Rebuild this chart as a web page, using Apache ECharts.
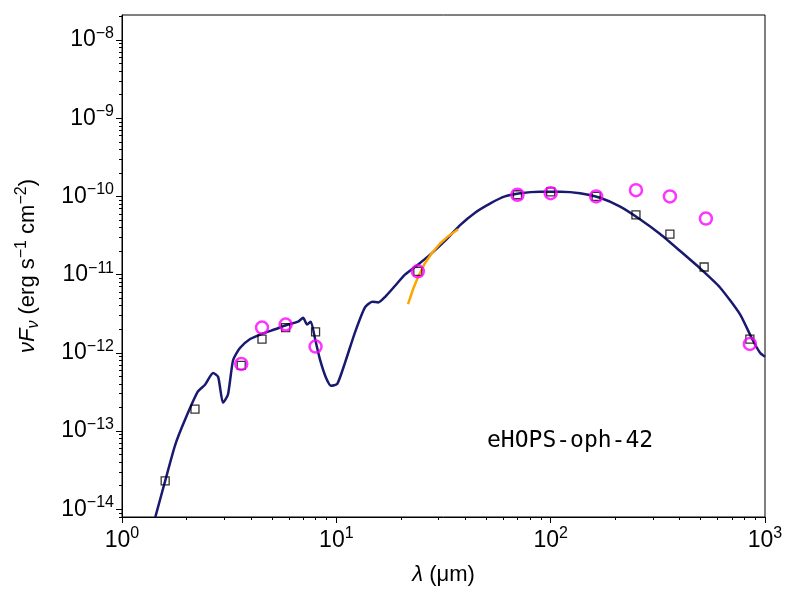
<!DOCTYPE html>
<html><head><meta charset="utf-8">
<script src="https://cdn.jsdelivr.net/npm/echarts@6/dist/echarts.min.js"></script>
<style>html,body{margin:0;background:#fff}#c{width:800px;height:600px}</style>
</head><body><div id="c"></div>
<script>
// model SED (lambda in micron, nuFnu in erg/s/cm2)
var modelLam = [1.43,1.59,1.77,1.97,2.26,2.44,2.66,2.81,2.96,3.12,3.30,3.55,3.96,4.50,5.18,5.95,6.63,7.0,7.3,7.6,7.96,8.4,8.95,9.45,10.1,11.0,12.2,13.6,14.7,15.7,16.9,18.8,20.9,24.1,27.4,32.1,37.8,44.4,52.1,61.2,72,89,111,137,170,211,261,324,402,498,618,765,871,948,1000];
var modelF = [7.9e-15,2.3e-14,6.6e-14,1.4e-13,3.2e-13,3.9e-13,5.5e-13,4.9e-13,2.3e-13,2.9e-13,8.1e-13,1.15e-12,1.5e-12,1.75e-12,2.0e-12,2.3e-12,2.5e-12,2.8e-12,2.3e-12,2.5e-12,1.5e-12,8.1e-13,4.8e-13,3.8e-13,4.0e-13,7.6e-13,1.8e-12,3.8e-12,4.5e-12,4.4e-12,5.2e-12,7.2e-12,1.0e-11,1.35e-11,1.8e-11,2.7e-11,4.3e-11,6.2e-11,8.1e-11,1.0e-10,1.1e-10,1.15e-10,1.15e-10,1.1e-10,9.6e-11,7.4e-11,5.1e-11,3.3e-11,2.0e-11,1.2e-11,6.8e-12,3.1e-12,1.5e-12,1.0e-12,8.9e-13];
// model photometry (squares)
var sqLam = [1.59,2.19,3.6,4.5,5.8,8.0,24,70,100,163,250,360,520,850];
var sqF = [2.3e-14,1.9e-13,6.9e-13,1.5e-12,2.1e-12,1.85e-12,1.1e-11,1.05e-10,1.14e-10,1.0e-10,5.8e-11,3.3e-11,1.25e-11,1.5e-12];
// observed photometry (circles)
var obLam = [3.6,4.5,5.8,8.0,24,70,100,163,250,360,530,850];
var obF = [7.2e-13,2.1e-12,2.3e-12,1.2e-12,1.1e-11,1.05e-10,1.1e-10,1.0e-10,1.2e-10,1.0e-10,5.2e-11,1.3e-12];
// IRS spectrum
var irsLam = [21.6,22.8,24,25.9,28,30.5,33.3,37];
var irsF = [4.2e-12,6.5e-12,9.2e-12,1.4e-11,1.9e-11,2.5e-11,3.1e-11,3.8e-11];
var xMajor = [0,1,2,3];
var yMajor = [-14,-13,-12,-11,-10,-9,-8];
var label = 'eHOPS-oph-42';

function pts(l, f) { return l.map(function (v, i) { return [Math.log10(v), Math.log10(f[i])]; }); }
function minors(a, b) { var r = []; for (var n = a; n < b; n++) for (var k = 2; k < 10; k++) r.push(n + Math.log10(k)); return r; }

var font = 'Liberation Sans';
var rich = { sup: { fontSize: 16, fontFamily: font, color: '#000', verticalAlign: 'top', padding: [0, 0, 13, 0] },
             b: { fontSize: 23, fontFamily: font, color: '#000' } };
function fmt(v) { return '{b|10}{sup|' + (v < 0 ? '\u2212' + (-v) : v) + '}'; }

var xmin = 0, xmax = 3, ymin = -14.10, ymax = -7.68;
var line = { show: true, lineStyle: { color: '#000', width: 1 } };

var chart = echarts.init(document.getElementById('c'));
chart.setOption({
  animation: false,
  grid: { left: 122, right: 35, top: 15, bottom: 83 },
  xAxis: [
    { type: 'value', min: xmin, max: xmax, axisLine: line, splitLine: { show: false },
      axisTick: { customValues: xMajor, length: 6, inside: false, lineStyle: { color: '#000' } },
      axisLabel: { customValues: xMajor, formatter: fmt, rich: rich, margin: 9 },
      name: '{i|\u03bb} (\u03bcm)', nameLocation: 'middle', nameGap: 47,
      nameTextStyle: { fontSize: 22, fontFamily: font, color: '#000',
        rich: { i: { fontSize: 22, fontStyle: 'italic', fontFamily: font } } } },
    { type: 'value', min: xmin, max: xmax, position: 'bottom', axisLine: { show: false }, splitLine: { show: false },
      axisTick: { customValues: minors(0, 3), length: 3, lineStyle: { color: '#000' } }, axisLabel: { show: false } }
  ],
  yAxis: [
    { type: 'value', min: ymin, max: ymax, axisLine: line, splitLine: { show: false },
      axisTick: { customValues: yMajor, length: 6, lineStyle: { color: '#000' } },
      axisLabel: { customValues: yMajor, formatter: fmt, rich: rich, margin: 8 },
      name: '{i|\u03bdF}{s|\u03bd} (erg s{p|\u22121} cm{p|\u22122})', nameLocation: 'middle', nameGap: 80,
      nameTextStyle: { fontSize: 22, fontFamily: font, color: '#000',
        rich: { i: { fontSize: 22, fontStyle: 'italic', fontFamily: font },
                s: { fontSize: 16, fontStyle: 'italic', fontFamily: font, verticalAlign: 'bottom', padding: [10, 0, 0, 0] },
                p: { fontSize: 16, fontFamily: font, verticalAlign: 'top', padding: [0, 0, 12, 0] } } } },
    { type: 'value', min: ymin, max: ymax, position: 'left', axisLine: { show: false }, splitLine: { show: false },
      axisTick: { customValues: minors(-15, -7).filter(function (v) { return v > ymin && v < ymax; }), length: 3, lineStyle: { color: '#000' } },
      axisLabel: { show: false } }
  ],
  graphic: [
    { type: 'rect', shape: { x: 122, y: 15, width: 643, height: 502 }, style: { fill: 'none', stroke: '#000', lineWidth: 1 }, silent: true },
    { type: 'text', left: 487, top: 430, style: { text: label, fontFamily: 'DejaVu Sans Mono', fontSize: 23, fill: '#000' } }
  ],
  series: [
    { type: 'line', data: pts(modelLam, modelF), showSymbol: false, smooth: 0.2, clip: true,
      lineStyle: { color: '#191970', width: 2.5 }, z: 2 },
    { type: 'line', data: pts(irsLam, irsF), showSymbol: false,
      lineStyle: { color: '#ffa500', width: 2.5 }, z: 3 },
    { type: 'scatter', data: pts(sqLam, sqF), symbol: 'rect', symbolSize: 8,
      itemStyle: { color: 'transparent', borderColor: '#000', borderWidth: 1.3 }, z: 4 },
    { type: 'scatter', data: pts(obLam, obF), symbol: 'circle', symbolSize: 12,
      itemStyle: { color: 'transparent', borderColor: '#ff00ff', borderWidth: 2.5 }, z: 5 }
  ]
});
</script>
</body></html>
